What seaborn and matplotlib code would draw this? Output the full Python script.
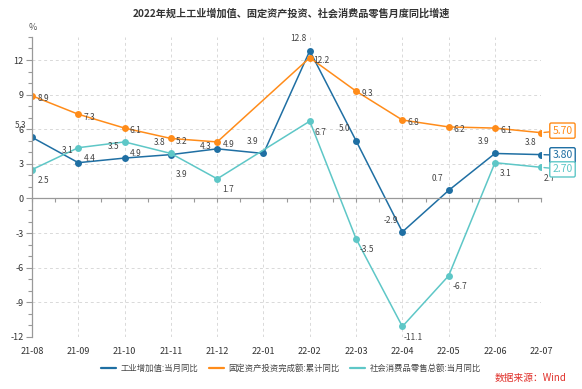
import numpy as np
import pandas as pd
import matplotlib.pyplot as plt
import matplotlib.ticker as mticker
import matplotlib.transforms as mtransforms
import seaborn as sns

# ── Data ──────────────────────────────────────────────────────────────────────
months = ["21-08", "21-09", "21-10", "21-11", "21-12", "22-01",
          "22-02", "22-03", "22-04", "22-05", "22-06", "22-07"]
industry = [5.3, 3.1, 3.5, 3.8, 4.3, 3.9, 12.8, 5.0, -2.9, 0.7, 3.9, 3.8]
fai = [8.9, 7.3, 6.1, 5.2, 4.9, np.nan, 12.2, 9.3, 6.8, 6.2, 6.1, 5.7]
retail = [2.5, 4.4, 4.9, 3.9, 1.7, np.nan, 6.7, -3.5, -11.1, -6.7, 3.1, 2.7]

names = ["工业增加值:当月同比", "固定资产投资完成额:累计同比", "社会消费品零售总额:当月同比"]
COLORS = ["#1f6fa3", "#ff8c1a", "#5ec7c7"]

# ── Style ─────────────────────────────────────────────────────────────────────
sns.set_theme(style="white")
plt.rcParams["font.family"] = ["Noto Sans CJK SC", "DejaVu Sans"]
plt.rcParams["axes.unicode_minus"] = False

fig = plt.figure(figsize=(5.82, 3.89), dpi=100)
ax = fig.add_axes([0.055, 0.134, 0.875, 0.771])

df = pd.DataFrame({"x": np.arange(len(months))})
series = [industry, fai, retail]
for name, vals, color in zip(names, series, COLORS):
    d = df.assign(v=vals).dropna()
    sns.lineplot(data=d, x="x", y="v", ax=ax, color=color, lw=1.1,
                 marker="o", markersize=5, markeredgewidth=0, label=name)

LBL = dict(ha="center", va="center", fontsize=6, color="#444444",
           textcoords="offset points", annotation_clip=False)

# point labels (last orange one is hidden under its end box)
for i, v in enumerate(industry):
    dy = 2 if i == 4 else 8.5
    ax.annotate(f"{v:.1f}", (i, v), xytext=(-8, dy), **LBL)
for i, v in enumerate(fai[:-1]):
    if np.isnan(v):
        continue
    ax.annotate(f"{v:.1f}", (i, v), xytext=(8, -2), **LBL)
for i, v in enumerate(retail):
    if np.isnan(v):
        continue
    dy = -15 if i == 3 else -8
    dx = 6 if i == len(retail) - 1 else 8
    ax.annotate(f"{v:.1f}", (i, v), xytext=(dx, dy), **LBL)

# end value boxes
box_dy = [-0.5, 1.5, -1.5]
for vals, color, dy in zip(series, COLORS, box_dy):
    v = vals[-1]
    ax.annotate(f"{v:.2f}", (11, v), xytext=(8, dy), textcoords="offset points",
                ha="left", va="center", fontsize=7.5, color=color,
                annotation_clip=False, zorder=5,
                bbox=dict(boxstyle="round,pad=0.25,rounding_size=0.15",
                          fc="white", ec=color, lw=1.0),
                arrowprops=dict(arrowstyle="-", color=color, lw=1.0,
                                shrinkA=0, shrinkB=2))

# axes
ax.set_xlim(0, 11)
ax.set_ylim(-12, 14)
ax.yaxis.set_major_locator(mticker.FixedLocator([-12, -9, -6, -3, 0, 3, 6, 9, 12]))
ax.yaxis.set_minor_locator(mticker.MultipleLocator(1))
ax.xaxis.set_major_locator(mticker.MultipleLocator(1))
ax.xaxis.set_minor_locator(mticker.MultipleLocator(0.5))
ax.set_xticklabels([])
ax.set_xlabel("")
ax.set_ylabel("")

ax.grid(True, which="major", color="#d9d9d9", ls=(0, (3, 3)), lw=0.7)
for s in ["top", "right"]:
    ax.spines[s].set_visible(False)
ax.spines["left"].set_color("#999999")
ax.spines["bottom"].set_color("#999999")
ax.spines["bottom"].set_position(("data", 0))
ax.spines["left"].set_linewidth(0.9)
ax.spines["bottom"].set_linewidth(0.9)
ax.tick_params(axis="both", which="both", direction="out", color="#999999",
               width=0.8, bottom=True, left=True)
ax.tick_params(axis="y", which="major", length=4, labelsize=6.5,
               labelcolor="#333333", pad=2)
ax.tick_params(axis="y", which="minor", length=3)
ax.tick_params(axis="x", which="both", length=3)

trans = mtransforms.blended_transform_factory(ax.transData, ax.transAxes)
for i, m in enumerate(months):
    ax.text(i, -0.05, m, transform=trans, ha="center", va="center",
            fontsize=6.5, color="#333333", clip_on=False)

ax.legend_.remove()
handles, labels = ax.get_legend_handles_labels()
fig.legend(handles, labels, loc="center", bbox_to_anchor=(0.5, 0.054),
           ncol=3, frameon=False, fontsize=6, handlelength=1.8,
           handletextpad=0.5, columnspacing=1.3, labelcolor="#444444")
for h in fig.legends[0].legend_handles:
    h.set_marker("")
    h.set_linewidth(1.6)

fig.text(0.5, 0.966, "2022年规上工业增加值、固定资产投资、社会消费品零售月度同比增速",
         ha="center", va="center", fontsize=7.3, fontweight="bold", color="#333333")
fig.text(0.057, 0.93, "%", ha="center", va="center", fontsize=6.5, color="#555555")
fig.text(0.973, 0.028, "数据来源：Wind", ha="right", va="center",
         fontsize=7, color="#e0302a")

fig.savefig("out.png", dpi=100)
